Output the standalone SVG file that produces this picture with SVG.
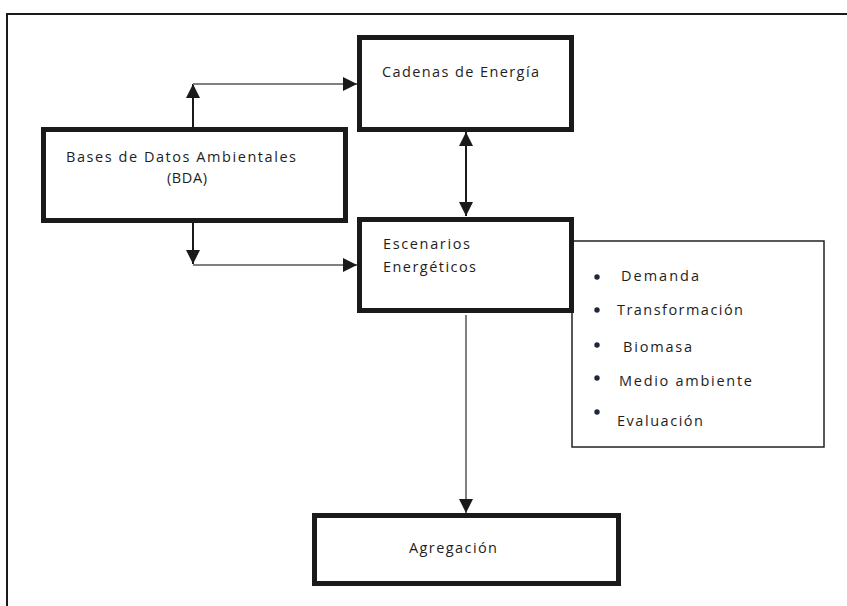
<svg xmlns="http://www.w3.org/2000/svg" width="847" height="606" viewBox="0 0 847 606">
<style>
.box{fill:#fff;stroke:#1a1a1a;stroke-width:5}
.thin{fill:#fff;stroke:#222;stroke-width:1.5}
.t{font-family:"Open Sans","Liberation Sans",sans-serif;font-size:14.5px;fill:#1e1e1e}
.dk{stroke:#1a1a1a;stroke-width:2;fill:none}
.gr{stroke:#808080;stroke-width:2;fill:none}
.b{fill:#1f2640}
</style>
<defs>
<marker id="ah" viewBox="0 0 10 10" refX="10" refY="5" markerWidth="14" markerHeight="14" markerUnits="userSpaceOnUse" orient="auto-start-reverse">
<path d="M0,0 L10,5 L0,10 Z" fill="#1a1a1a"/>
</marker>
</defs>
<rect width="847" height="606" fill="#fff"/>
<path d="M7,606 V14 H847" fill="none" stroke="#1a1a1a" stroke-width="2"/>
<g id="connectors">
<path class="dk" d="M193,127 V84" marker-end="url(#ah)"/>
<path class="gr" d="M193,84 H357" marker-end="url(#ah)"/>
<path class="dk" d="M193,222 V264" marker-end="url(#ah)"/>
<path class="gr" d="M193,265 H357" marker-end="url(#ah)"/>
<path class="dk" d="M466,132 V216" marker-start="url(#ah)" marker-end="url(#ah)"/>
<path class="gr" d="M466,315 V513" marker-end="url(#ah)"/>
</g>
<g id="cadenas">
<rect class="box" x="359.5" y="37.5" width="212" height="92"/>
<text class="t" x="382" y="77" textLength="157">Cadenas de Energía</text>
</g>
<g id="bases">
<rect class="box" x="43.5" y="129.5" width="302" height="91"/>
<text class="t" x="66" y="162" textLength="230">Bases de Datos Ambientales</text>
<text class="t" x="167" y="183" textLength="40">(BDA)</text>
</g>
<g id="lista">
<rect class="thin" x="572" y="241" width="252" height="206"/>
<circle class="b" cx="597" cy="277" r="2.7"/>
<text class="t" x="621" y="281" textLength="78">Demanda</text>
<circle class="b" cx="597" cy="310" r="2.7"/>
<text class="t" x="617" y="315" textLength="126">Transformación</text>
<circle class="b" cx="597" cy="345" r="2.7"/>
<text class="t" x="623" y="352" textLength="69">Biomasa</text>
<circle class="b" cx="597" cy="378" r="2.7"/>
<text class="t" x="619" y="386" textLength="133">Medio ambiente</text>
<circle class="b" cx="597" cy="412" r="2.7"/>
<text class="t" x="617" y="426" textLength="86">Evaluación</text>
</g>
<g id="escenarios">
<rect class="box" x="359.5" y="219.5" width="212" height="91"/>
<text class="t" x="383" y="249" textLength="87">Escenarios</text>
<text class="t" x="383" y="272" textLength="93">Energéticos</text>
</g>
<g id="agregacion">
<rect class="box" x="314.5" y="515.5" width="304" height="68"/>
<text class="t" x="409" y="553" textLength="88">Agregación</text>
</g>
</svg>
